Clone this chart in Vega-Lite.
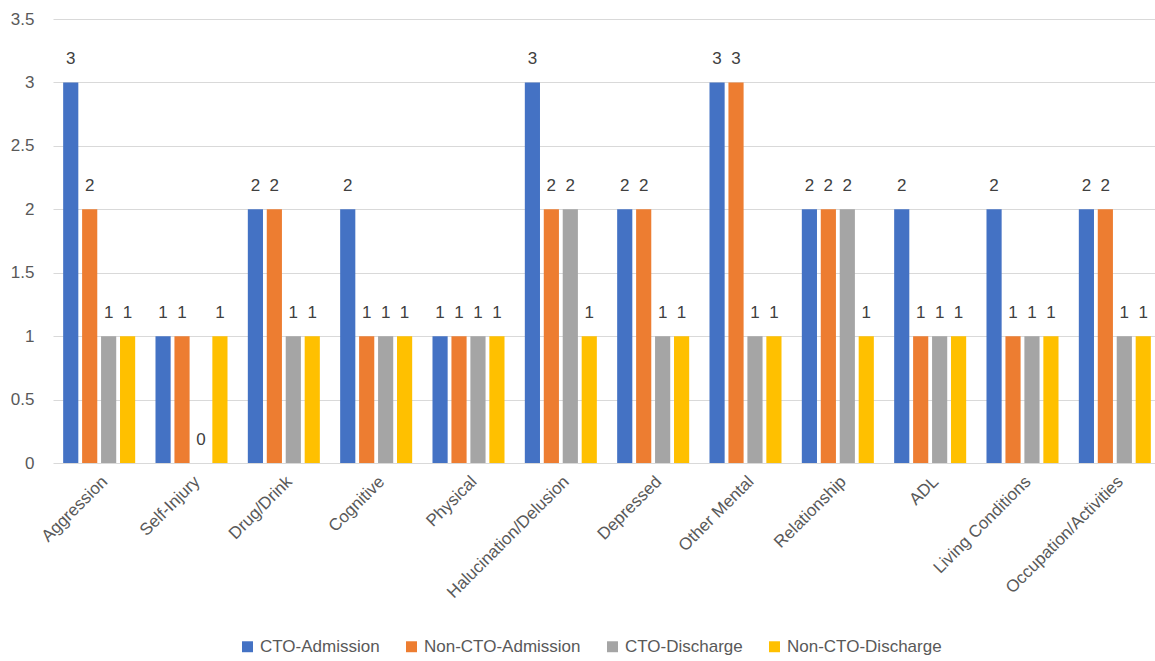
{
  "$schema": "https://vega.github.io/schema/vega-lite/v6.json",
  "autosize": {"type": "none"},
  "width": 1108,
  "height": 444,
  "padding": {"left": 53, "top": 19, "right": 0, "bottom": 198},
  "background": "white",
  "config": {
    "view": {"stroke": null},
    "font": "Liberation Sans"
  },
  "data": {
    "values": [
      {"category": "Aggression", "series": "CTO-Admission", "value": 3},
      {"category": "Aggression", "series": "Non-CTO-Admission", "value": 2},
      {"category": "Aggression", "series": "CTO-Discharge", "value": 1},
      {"category": "Aggression", "series": "Non-CTO-Discharge", "value": 1},
      {"category": "Self-Injury", "series": "CTO-Admission", "value": 1},
      {"category": "Self-Injury", "series": "Non-CTO-Admission", "value": 1},
      {"category": "Self-Injury", "series": "CTO-Discharge", "value": 0},
      {"category": "Self-Injury", "series": "Non-CTO-Discharge", "value": 1},
      {"category": "Drug/Drink", "series": "CTO-Admission", "value": 2},
      {"category": "Drug/Drink", "series": "Non-CTO-Admission", "value": 2},
      {"category": "Drug/Drink", "series": "CTO-Discharge", "value": 1},
      {"category": "Drug/Drink", "series": "Non-CTO-Discharge", "value": 1},
      {"category": "Cognitive", "series": "CTO-Admission", "value": 2},
      {"category": "Cognitive", "series": "Non-CTO-Admission", "value": 1},
      {"category": "Cognitive", "series": "CTO-Discharge", "value": 1},
      {"category": "Cognitive", "series": "Non-CTO-Discharge", "value": 1},
      {"category": "Physical", "series": "CTO-Admission", "value": 1},
      {"category": "Physical", "series": "Non-CTO-Admission", "value": 1},
      {"category": "Physical", "series": "CTO-Discharge", "value": 1},
      {"category": "Physical", "series": "Non-CTO-Discharge", "value": 1},
      {"category": "Halucination/Delusion", "series": "CTO-Admission", "value": 3},
      {"category": "Halucination/Delusion", "series": "Non-CTO-Admission", "value": 2},
      {"category": "Halucination/Delusion", "series": "CTO-Discharge", "value": 2},
      {"category": "Halucination/Delusion", "series": "Non-CTO-Discharge", "value": 1},
      {"category": "Depressed", "series": "CTO-Admission", "value": 2},
      {"category": "Depressed", "series": "Non-CTO-Admission", "value": 2},
      {"category": "Depressed", "series": "CTO-Discharge", "value": 1},
      {"category": "Depressed", "series": "Non-CTO-Discharge", "value": 1},
      {"category": "Other Mental", "series": "CTO-Admission", "value": 3},
      {"category": "Other Mental", "series": "Non-CTO-Admission", "value": 3},
      {"category": "Other Mental", "series": "CTO-Discharge", "value": 1},
      {"category": "Other Mental", "series": "Non-CTO-Discharge", "value": 1},
      {"category": "Relationship", "series": "CTO-Admission", "value": 2},
      {"category": "Relationship", "series": "Non-CTO-Admission", "value": 2},
      {"category": "Relationship", "series": "CTO-Discharge", "value": 2},
      {"category": "Relationship", "series": "Non-CTO-Discharge", "value": 1},
      {"category": "ADL", "series": "CTO-Admission", "value": 2},
      {"category": "ADL", "series": "Non-CTO-Admission", "value": 1},
      {"category": "ADL", "series": "CTO-Discharge", "value": 1},
      {"category": "ADL", "series": "Non-CTO-Discharge", "value": 1},
      {"category": "Living Conditions", "series": "CTO-Admission", "value": 2},
      {"category": "Living Conditions", "series": "Non-CTO-Admission", "value": 1},
      {"category": "Living Conditions", "series": "CTO-Discharge", "value": 1},
      {"category": "Living Conditions", "series": "Non-CTO-Discharge", "value": 1},
      {"category": "Occupation/Activities", "series": "CTO-Admission", "value": 2},
      {"category": "Occupation/Activities", "series": "Non-CTO-Admission", "value": 2},
      {"category": "Occupation/Activities", "series": "CTO-Discharge", "value": 1},
      {"category": "Occupation/Activities", "series": "Non-CTO-Discharge", "value": 1}
    ]
  },
  "encoding": {
    "x": {
      "field": "category", "type": "nominal", "sort": null,
      "scale": {"paddingInner": 0.22, "paddingOuter": 0.11},
      "axis": {"title": null, "labelAngle": -45, "domain": false, "ticks": false, "labelPadding": 10,
        "labelFont": "Liberation Sans", "labelFontSize": 17, "labelColor": "#595959", "labelLimit": 300}
    },
    "xOffset": {
      "field": "series", "type": "nominal",
      "sort": ["CTO-Admission", "Non-CTO-Admission", "CTO-Discharge", "Non-CTO-Discharge"],
      "scale": {"paddingInner": 0.2}
    },
    "y": {
      "field": "value", "type": "quantitative",
      "scale": {"domain": [0, 3.5], "nice": false},
      "axis": {
        "title": null, "values": [0, 0.5, 1, 1.5, 2, 2.5, 3, 3.5], "format": "~g",
        "domain": false, "ticks": false, "gridColor": "#d9d9d9", "gridWidth": 1,
        "labelPadding": 19, "labelFont": "Liberation Sans", "labelFontSize": 17, "labelColor": "#595959"
      }
    }
  },
  "layer": [
    {
      "mark": {"type": "bar"},
      "encoding": {
        "color": {
          "field": "series", "type": "nominal",
          "sort": ["CTO-Admission", "Non-CTO-Admission", "CTO-Discharge", "Non-CTO-Discharge"],
          "scale": {
            "domain": ["CTO-Admission", "Non-CTO-Admission", "CTO-Discharge", "Non-CTO-Discharge"],
            "range": ["#4472C4", "#ED7D31", "#A5A5A5", "#FFC000"]
          },
          "legend": {
            "title": null, "orient": "none", "direction": "horizontal",
            "legendX": 186, "legendY": 619,
            "symbolType": "square", "symbolSize": 120, "symbolStrokeWidth": 0,
            "labelFont": "Liberation Sans", "labelFontSize": 17, "labelColor": "#595959",
            "columnPadding": 23, "labelOffset": 4
          }
        }
      }
    },
    {
      "mark": {"type": "text", "dy": -23, "fontSize": 17, "color": "#404040", "font": "Liberation Sans"},
      "encoding": {"text": {"field": "value", "type": "quantitative"}}
    }
  ]
}
